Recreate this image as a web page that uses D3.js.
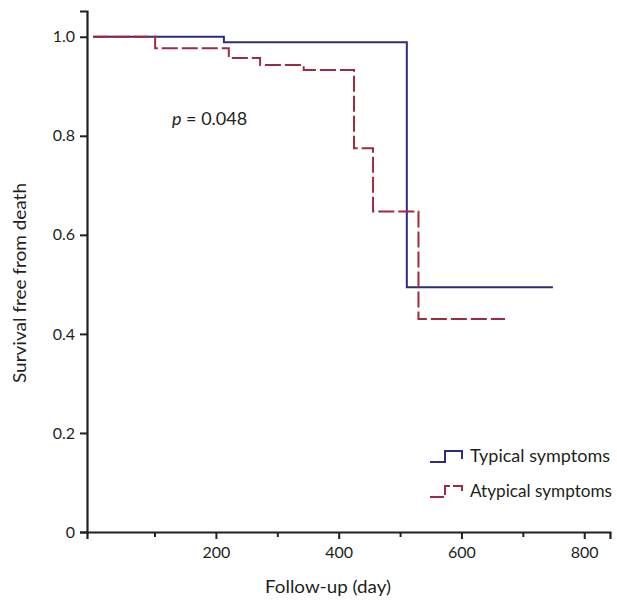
<!DOCTYPE html>
<html>
<head>
<meta charset="utf-8">
<script src="https://cdn.jsdelivr.net/npm/d3@7"></script>
<style>
  body { margin: 0; background: #fff; }
  text { font-family: Lato, "Noto Sans", sans-serif; fill: #231f20; }
</style>
</head>
<body>
<script>
// Kaplan-Meier curves
const typicalDays = [0, 213, 511, 749];
const typicalSurv = [1.0, 0.989, 0.494, 0.494];
const atypicalDays = [0, 101, 221, 272, 343, 425, 456, 530, 671];
const atypicalSurv = [1.0, 0.977, 0.957, 0.943, 0.933, 0.775, 0.647, 0.430, 0.430];

const xMajor = [200, 400, 600, 800];
const xMinor = [100, 300, 500, 700];
const yTicks = [0, 0.2, 0.4, 0.6, 0.8, 1.0];

const width = 617, height = 601;
const svg = d3.select("body").append("svg")
    .attr("width", width)
    .attr("height", height);

const x = d3.scaleLinear().domain([-10, 842]).range([87, 610]);
const y = d3.scaleLinear().domain([0, 1.052]).range([532, 11]);

const ink = "#231f20";

// axes
svg.append("g")
    .attr("transform", `translate(${x.range()[0]},0)`)
    .call(d3.axisLeft(y).tickValues(yTicks).tickSize(7).tickPadding(5)
        .tickFormat(d => d === 0 ? "0" : d3.format(".1f")(d)));

svg.append("g")
    .attr("transform", `translate(0,${y.range()[0]})`)
    .call(d3.axisBottom(x).tickValues(xMajor).tickSize(7).tickPadding(8));

svg.append("g")
    .attr("transform", `translate(0,${y.range()[0]})`)
    .call(d3.axisBottom(x).tickValues(xMinor).tickSize(5).tickFormat(""))
    .select(".domain").remove();

svg.selectAll(".domain")
    .attr("stroke", ink)
    .attr("stroke-width", 2.2);
svg.selectAll(".tick line")
    .attr("stroke", ink)
    .attr("stroke-width", 2);
svg.selectAll(".tick text")
    .style("font-size", "16px")
    .attr("fill", ink);

// lines
const line = d3.line().curve(d3.curveStepAfter);

svg.append("path")
    .datum(typicalDays.map((d, i) => [x(d), y(typicalSurv[i])]))
    .attr("d", line)
    .attr("fill", "none")
    .attr("stroke", "#2e2d7a")
    .attr("stroke-width", 2);

svg.append("path")
    .datum(atypicalDays.map((d, i) => [x(d), y(atypicalSurv[i])]))
    .attr("d", line)
    .attr("fill", "none")
    .attr("stroke", "#9c2b43")
    .attr("stroke-width", 2)
    .attr("stroke-dasharray", "16,4");

// p value
const pText = svg.append("text")
    .attr("x", 172)
    .attr("y", 125)
    .style("font-size", "18px");
pText.append("tspan").style("font-style", "italic").text("p");
pText.append("tspan").text(" = 0.048");

// axis titles
svg.append("text")
    .attr("x", 328)
    .attr("y", 593)
    .attr("text-anchor", "middle")
    .style("font-size", "18px")
    .attr("textLength", 126)
    .attr("lengthAdjust", "spacingAndGlyphs")
    .text("Follow-up (day)");

svg.append("text")
    .attr("transform", "translate(26,283) rotate(-90)")
    .attr("text-anchor", "middle")
    .style("font-size", "18px")
    .attr("textLength", 200)
    .attr("lengthAdjust", "spacingAndGlyphs")
    .text("Survival free from death");

// legend
const legend = [
  { label: "Typical symptoms", color: "#2e2d7a", dash: null, yPos: 462, w: 140 },
  { label: "Atypical symptoms", color: "#9c2b43", dash: "14,3", yPos: 497, w: 142 }
];
legend.forEach(l => {
  svg.append("path")
    .attr("d", `M430,${l.yPos}H445V${l.yPos - 11}H462V${l.yPos - 3}`)
    .attr("fill", "none")
    .attr("stroke", l.color)
    .attr("stroke-width", 2)
    .attr("stroke-dasharray", l.dash);
  svg.append("text")
    .attr("x", 470)
    .attr("y", l.yPos)
    .style("font-size", "17px")
    .attr("textLength", l.w)
    .attr("lengthAdjust", "spacingAndGlyphs")
    .text(l.label);
});
</script>
</body>
</html>
